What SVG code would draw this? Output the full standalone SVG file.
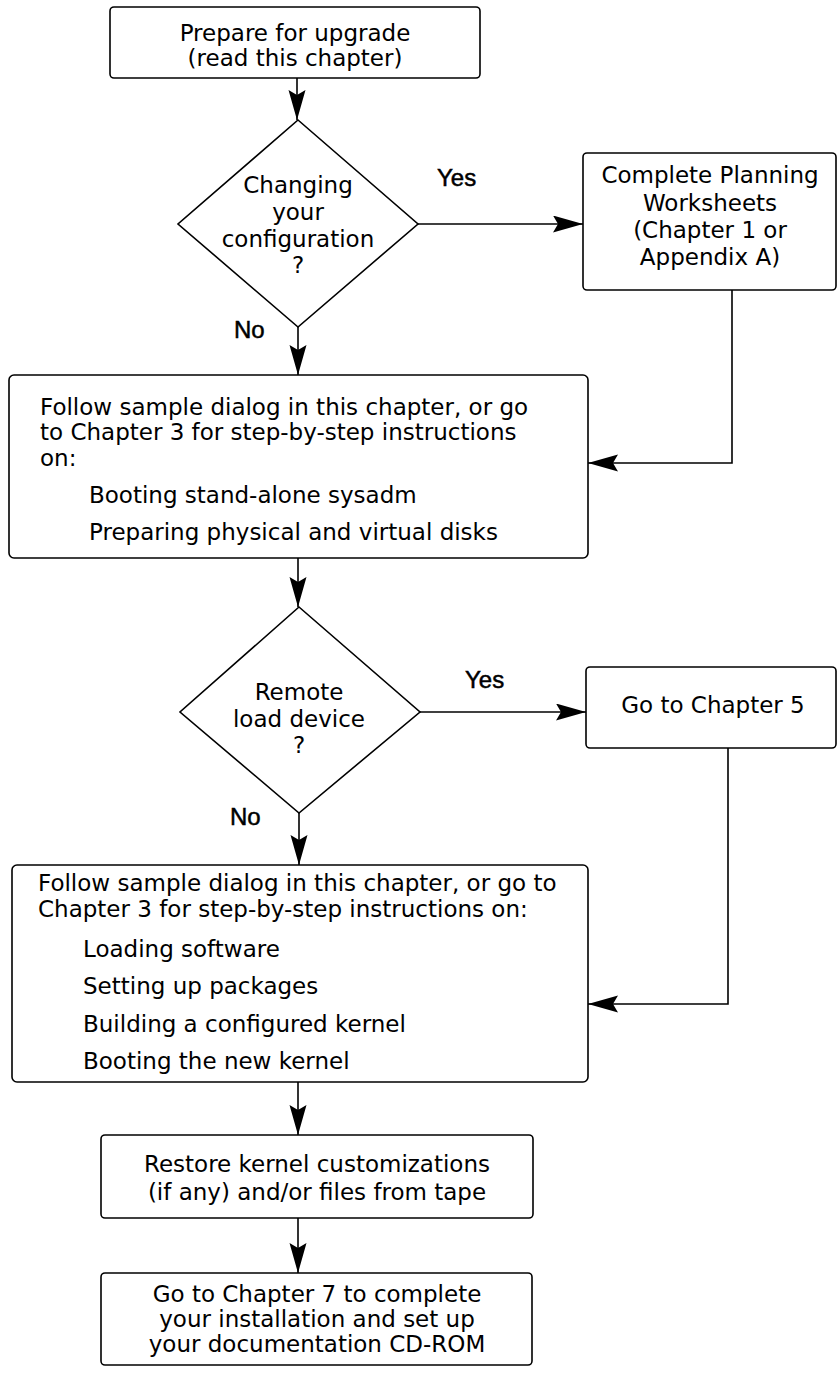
<svg xmlns="http://www.w3.org/2000/svg" width="838" height="1373" viewBox="0 0 838 1373">
<style>
.box{fill:#fff;stroke:#000;stroke-width:1.6}
.t{font-family:"DejaVu Sans",sans-serif;font-size:23px;fill:#000}
.c{text-anchor:middle}
.lbl{font-family:"Liberation Sans",Arial,sans-serif;font-size:24px;fill:#000;stroke:#000;stroke-width:0.5}
.ln{fill:none;stroke:#000;stroke-width:1.6}
</style>
<defs>
<marker id="ah" markerUnits="userSpaceOnUse" markerWidth="32" markerHeight="18" refX="30" refY="8.5" orient="auto">
<path d="M0,0 L30,8.5 L0,17 L5,8.5 Z" fill="#000"/>
</marker>
</defs>
<g id="connectors">
<line class="ln" x1="297" y1="78" x2="297" y2="120" marker-end="url(#ah)"/>
<line class="ln" x1="418" y1="224" x2="583" y2="224" marker-end="url(#ah)"/>
<line class="ln" x1="298" y1="327" x2="298" y2="375" marker-end="url(#ah)"/>
<polyline class="ln" points="732,290 732,463 588,463" marker-end="url(#ah)"/>
<line class="ln" x1="298" y1="558" x2="298" y2="607" marker-end="url(#ah)"/>
<line class="ln" x1="420" y1="712" x2="586" y2="712" marker-end="url(#ah)"/>
<line class="ln" x1="299" y1="813" x2="299" y2="865" marker-end="url(#ah)"/>
<polyline class="ln" points="728,748 728,1004 588,1004" marker-end="url(#ah)"/>
<line class="ln" x1="298" y1="1082" x2="298" y2="1135" marker-end="url(#ah)"/>
<line class="ln" x1="298" y1="1218" x2="298" y2="1273" marker-end="url(#ah)"/>
<text class="lbl" x="437" y="186">Yes</text>
<text class="lbl" x="234" y="338">No</text>
<text class="lbl" x="465" y="688">Yes</text>
<text class="lbl" x="230" y="825">No</text>
</g>
<g id="prepare">
<rect class="box" x="110" y="7" width="370" height="71" rx="4"/>
<text class="t c" x="295" y="41">Prepare for upgrade</text>
<text class="t c" x="295" y="66">(read this chapter)</text>
</g>
<g id="decision1">
<polygon class="box" points="298,120 418,224 298,327 178,224"/>
<text class="t c" x="298" y="193">Changing</text>
<text class="t c" x="298" y="220">your</text>
<text class="t c" x="298" y="247">configuration</text>
<text class="t c" x="298" y="273">?</text>
</g>
<g id="worksheets">
<rect class="box" x="583" y="153" width="253" height="137" rx="4"/>
<text class="t c" x="710" y="183">Complete Planning</text>
<text class="t c" x="710" y="211">Worksheets</text>
<text class="t c" x="710" y="238">(Chapter 1 or</text>
<text class="t c" x="710" y="265">Appendix A)</text>
</g>
<g id="sample1">
<rect class="box" x="9" y="375" width="579" height="183" rx="5"/>
<text class="t" x="40" y="415">Follow sample dialog in this chapter, or go</text>
<text class="t" x="40" y="440">to Chapter 3 for step-by-step instructions</text>
<text class="t" x="40" y="466">on:</text>
<text class="t" x="89" y="503">Booting stand-alone sysadm</text>
<text class="t" x="89" y="540">Preparing physical and virtual disks</text>
</g>
<g id="decision2">
<polygon class="box" points="299,607 420,712 299,813 180,712"/>
<text class="t c" x="299" y="700">Remote</text>
<text class="t c" x="299" y="727">load device</text>
<text class="t c" x="299" y="753">?</text>
</g>
<g id="chapter5">
<rect class="box" x="586" y="667" width="250" height="81" rx="4"/>
<text class="t c" x="713" y="713">Go to Chapter 5</text>
</g>
<g id="sample2">
<rect class="box" x="12" y="865" width="576" height="217" rx="5"/>
<text class="t" x="38" y="891">Follow sample dialog in this chapter, or go to</text>
<text class="t" x="38" y="917">Chapter 3 for step-by-step instructions on:</text>
<text class="t" x="83" y="957">Loading software</text>
<text class="t" x="83" y="994">Setting up packages</text>
<text class="t" x="83" y="1032">Building a configured kernel</text>
<text class="t" x="83" y="1069">Booting the new kernel</text>
</g>
<g id="restore">
<rect class="box" x="101" y="1135" width="432" height="83" rx="4"/>
<text class="t c" x="317" y="1172">Restore kernel customizations</text>
<text class="t c" x="317" y="1200">(if any) and/or files from tape</text>
</g>
<g id="chapter7">
<rect class="box" x="101" y="1273" width="431" height="92" rx="4"/>
<text class="t c" x="317" y="1302">Go to Chapter 7 to complete</text>
<text class="t c" x="317" y="1327">your installation and set up</text>
<text class="t c" x="317" y="1352">your documentation CD-ROM</text>
</g>
</svg>
